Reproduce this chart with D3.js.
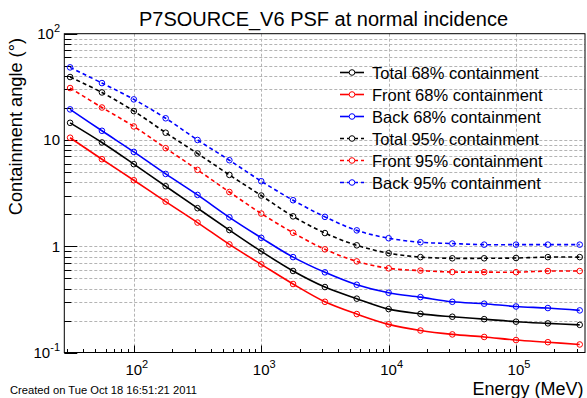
<!DOCTYPE html>
<html>
<head>
<meta charset="utf-8">
<script src="https://cdn.jsdelivr.net/npm/d3@7"></script>
<style>
  body { margin: 0; background: #fff; }
  svg { display: block; font-family: "Liberation Sans", Arial, sans-serif; }
</style>
</head>
<body>
<svg id="chart" width="587" height="398"></svg>
<script>
// energies (MeV), quarter-decade steps
const energies = [31.6, 56.2, 100, 177.8, 316.2, 562.3, 1000, 1778, 3162, 5623, 10000, 17783, 31623, 56234, 100000, 177828, 316228]

// containment angles (deg)
const total68 = [14.5, 9.47, 5.92, 3.67, 2.28, 1.42, 0.895, 0.585, 0.413, 0.321, 0.256, 0.231, 0.217, 0.206, 0.195, 0.188, 0.182]
const front68 = [10.5, 6.59, 4.18, 2.63, 1.67, 1.04, 0.675, 0.441, 0.30, 0.230, 0.184, 0.161, 0.148, 0.140, 0.131, 0.125, 0.119]
const back68 = [19.4, 12.2, 7.72, 4.79, 3.04, 1.87, 1.20, 0.79, 0.568, 0.434, 0.365, 0.332, 0.30, 0.288, 0.271, 0.262, 0.249]
const total95 = [39.1, 28.0, 18.7, 11.7, 7.46, 4.69, 3.00, 1.91, 1.33, 1.02, 0.86, 0.79, 0.77, 0.77, 0.775, 0.79, 0.79]
const front95 = [30.8, 20.2, 13.4, 8.37, 5.23, 3.24, 2.03, 1.34, 0.935, 0.72, 0.62, 0.59, 0.572, 0.571, 0.57, 0.584, 0.584]
const back95 = [48.2, 34.3, 24.1, 16.0, 10.0, 6.45, 4.09, 2.71, 1.89, 1.41, 1.19, 1.09, 1.06, 1.035, 1.035, 1.035, 1.035]

const seriesNames = ['Total 68% containment', 'Front 68% containment', 'Back 68% containment',
  'Total 95% containment', 'Front 95% containment', 'Back 95% containment']
const seriesValues = [total68, front68, back68, total95, front95, back95]
const seriesColors = ['#000000', '#ff0000', '#0000ff', '#000000', '#ff0000', '#0000ff']
const seriesDashed = [false, false, false, true, true, true]

const xDomain = [28.46, 347850]
const yDomain = [0.1, 100]

const frame = {left: 64.3, right: 585, top: 33.7, bottom: 352.5}

const svg = d3.select('#chart')
svg.append('rect').attr('width', 587).attr('height', 398).attr('fill', '#fff')

const x = d3.scaleLog().domain(xDomain).range([frame.left, frame.right])
const y = d3.scaleLog().domain(yDomain).range([frame.bottom, frame.top])

const isMajor = (v) => Math.abs(Math.log10(v) - Math.round(Math.log10(v))) < 1e-6

// grid
const grid = svg.append('g').attr('stroke', '#b4b4b4').attr('stroke-width', 1).attr('stroke-dasharray', '3,2')
grid.selectAll('line.h')
  .data(y.ticks().filter((v) => v > yDomain[0] && v < yDomain[1]))
  .join('line')
  .attr('x1', frame.left).attr('x2', frame.right)
  .attr('y1', (d) => Math.round(y(d)) + 0.5).attr('y2', (d) => Math.round(y(d)) + 0.5)
grid.selectAll('line.v')
  .data(x.ticks().filter(isMajor))
  .join('line')
  .attr('y1', frame.top).attr('y2', frame.bottom)
  .attr('x1', (d) => Math.round(x(d)) + 0.5).attr('x2', (d) => Math.round(x(d)) + 0.5)

// frame
svg.append('rect')
  .attr('x', frame.left).attr('y', frame.top)
  .attr('width', frame.right - frame.left).attr('height', frame.bottom - frame.top)
  .attr('fill', 'none').attr('stroke', '#000').attr('stroke-width', 1)

// ticks
const ticks = svg.append('g').attr('stroke', '#000').attr('stroke-width', 1)
ticks.selectAll('line.yt')
  .data(y.ticks())
  .join('line')
  .attr('x1', frame.left).attr('x2', (d) => frame.left + (isMajor(d) ? 13 : 7))
  .attr('y1', (d) => Math.round(y(d)) + 0.5).attr('y2', (d) => Math.round(y(d)) + 0.5)
ticks.selectAll('line.xt')
  .data(x.ticks())
  .join('line')
  .attr('y1', frame.bottom).attr('y2', (d) => frame.bottom - (isMajor(d) ? 7 : 3.5))
  .attr('x1', (d) => Math.round(x(d)) + 0.5).attr('x2', (d) => Math.round(x(d)) + 0.5)

// tick labels with exponents
function powerLabel(sel, v) {
  const e = Math.round(Math.log10(v))
  if (e === 0) {
    sel.text('1')
  } else if (e === 1) {
    sel.text('10')
  } else {
    sel.append('tspan').text('10')
    sel.append('tspan').attr('font-size', 11).attr('dy', -7).text(e)
  }
}

svg.append('g').selectAll('text')
  .data(y.ticks().filter(isMajor))
  .join('text')
  .attr('x', 60).attr('y', (d) => y(d) + 5.5)
  .attr('text-anchor', 'end').attr('font-size', 15).attr('fill', '#000')
  .each(function (d) { powerLabel(d3.select(this), d) })

svg.append('g').selectAll('text')
  .data(x.ticks().filter(isMajor))
  .join('text')
  .attr('x', (d) => x(d) + 3).attr('y', 375)
  .attr('text-anchor', 'middle').attr('font-size', 15).attr('fill', '#000')
  .each(function (d) { powerLabel(d3.select(this), d) })

// titles
svg.append('text').attr('x', 323.5).attr('y', 25.5).attr('text-anchor', 'middle')
  .attr('font-size', 20).text('P7SOURCE_V6 PSF at normal incidence')
svg.append('text').attr('transform', 'translate(22,38) rotate(-90)').attr('text-anchor', 'end')
  .attr('font-size', 18.2).text('Containment angle (°)')
svg.append('text').attr('x', 583.5).attr('y', 394.5).attr('text-anchor', 'end')
  .attr('font-size', 18).text('Energy (MeV)')
svg.append('text').attr('x', 10).attr('y', 393.5).attr('font-size', 11.2).text('Created on Tue Oct 18 16:51:21 2011')

// curves
const line = d3.line()
  .x((d) => x(d[0]))
  .y((d) => y(d[1]))
  .curve(d3.curveCatmullRom)

const plot = svg.append('g')
seriesValues.forEach((vals, i) => {
  const pts = energies.map((e, j) => [e, vals[j]])
  const g = plot.append('g')
  g.append('path')
    .attr('d', line(pts))
    .attr('fill', 'none')
    .attr('stroke', seriesColors[i])
    .attr('stroke-width', 1.6)
    .attr('stroke-dasharray', seriesDashed[i] ? '4,3' : null)
  g.selectAll('circle')
    .data(pts)
    .join('circle')
    .attr('cx', (d) => x(d[0])).attr('cy', (d) => y(d[1]))
    .attr('r', 2.8)
    .attr('fill', 'none')
    .attr('stroke', seriesColors[i])
    .attr('stroke-width', 1)
})

// legend
const legend = svg.append('g')
const item = legend.selectAll('g')
  .data(seriesNames)
  .join('g')
  .attr('transform', (d, i) => `translate(0,${72.5 + i * 22})`)
item.append('line')
  .attr('x1', 340).attr('x2', 364)
  .attr('stroke', (d, i) => seriesColors[i])
  .attr('stroke-width', 1.6)
  .attr('stroke-dasharray', (d, i) => (seriesDashed[i] ? '4,3' : null))
item.append('circle')
  .attr('cx', 352).attr('r', 2.8)
  .attr('fill', '#fff')
  .attr('stroke', (d, i) => seriesColors[i])
item.append('text')
  .attr('x', 372).attr('y', 6)
  .attr('font-size', 16.5)
  .text((d) => d)
</script>
</body>
</html>
